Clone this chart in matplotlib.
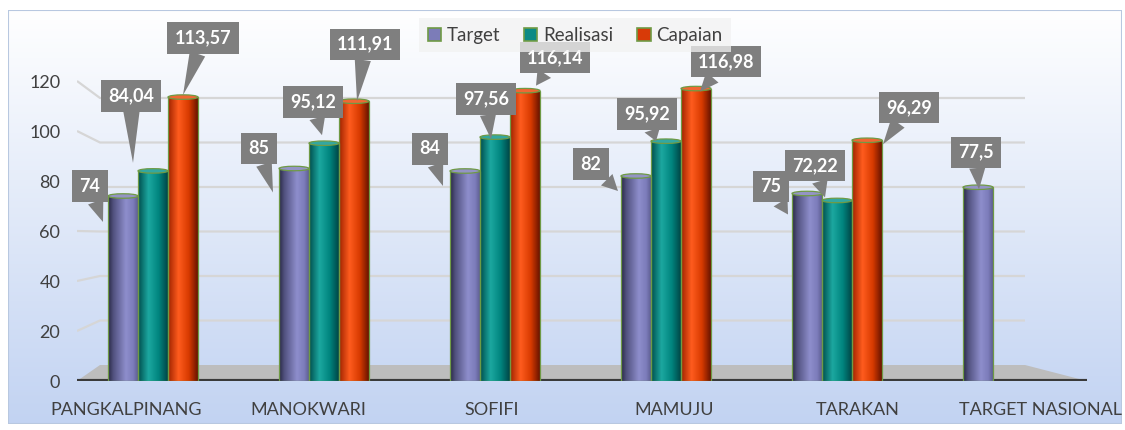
import numpy as np
import matplotlib
matplotlib.use("Agg")
import matplotlib.pyplot as plt
from matplotlib.patches import Polygon, Rectangle, Ellipse, Patch
from matplotlib.transforms import offset_copy

# ---------------- data ----------------
categories = ['PANGKALPINANG', 'MANOKWARI', 'SOFIFI', 'MAMUJU', 'TARAKAN', 'TARGET NASIONAL']
series_names = ['Target', 'Realisasi', 'Capaian']
target = [74, 85, 84, 82, 75, 77.5]
realisasi = [84.04, 95.12, 97.56, 95.92, 72.22, None]
capaian = [113.57, 111.91, 116.14, 116.98, 96.29, None]
y_ticks = [0, 20, 40, 60, 80, 100, 120]

# ---------------- layout / style ----------------
W, H = 1125, 430
plt.rcParams['font.family'] = ['Lato', 'DejaVu Sans']
fig = plt.figure(figsize=(W / 100, H / 100), dpi=100)

# background gradient panel
bg = fig.add_axes([8 / W, (H - 424) / H, (1122 - 8) / W, (424 - 10) / H], zorder=-10)
grad = np.linspace(0, 1, 256)[:, None]
top_c = np.array([255, 255, 255]) / 255
bot_c = np.array([194, 211, 242]) / 255
img = (top_c[None, None, :] * (1 - grad[..., None]) + bot_c[None, None, :] * grad[..., None])
img = np.repeat(img, 2, axis=1)
bg.imshow(img, aspect='auto', extent=[0, 1, 0, 1], origin='upper')
bg.set_xlim(0, 1); bg.set_ylim(0, 1)
bg.add_patch(Rectangle((0, 0), 1, 1, fill=False, ec='#b8c8e0', lw=1.5, transform=bg.transAxes))
bg.axis('off')

ax = fig.add_axes([77 / W, 49 / H, 1010 / W, 375 / H], zorder=1)
ax.patch.set_alpha(0)
for s in ax.spines.values():
    s.set_visible(False)

px = 171.0                       # pixels per category
x_left, x_right = -76 / px, 934 / px
ax.set_xlim(x_left, x_right)
ax.set_ylim(0, 150)

# perspective helpers (back wall)
x_back_left = -53 / px
x_back_right = 872 / px
def back(v):
    return 6.4 + 0.89 * v

# gridlines on side wall + back wall
for v in y_ticks[1:]:
    ax.plot([x_left, x_back_left, x_back_right], [v, back(v), back(v)],
            color='#d6d6d6', lw=1.6, zorder=1, solid_capstyle='butt')

# floor
floor = Polygon([(x_left, 0), (x_back_left, back(0)), (x_back_right, back(0)), (x_right, 0)],
                closed=True, fc='#bdbdbd', ec='none', zorder=2)
ax.add_patch(floor)
ax.plot([x_left, x_right], [0, 0], color='#3a3a3a', lw=3, zorder=2.5, solid_capstyle='round')

# bar styling
bw = 30 / px
offsets = [-30 / px, 0, 30 / px]
stops = {
    'Target': [(0, (42, 42, 70)), (0.18, (82, 82, 128)), (0.6, (142, 142, 204)),
               (0.85, (124, 124, 186)), (1, (95, 95, 148))],
    'Realisasi': [(0, (0, 78, 78)), (0.35, (28, 168, 160)), (0.7, (0, 132, 126)), (1, (0, 70, 70))],
    'Capaian': [(0, (160, 35, 0)), (0.35, (255, 92, 30)), (0.7, (215, 58, 0)), (1, (105, 20, 0))],
}
legend_col = {'Target': '#7c7cb8', 'Realisasi': '#0c8a84', 'Capaian': '#d83a08'}
edge_green = '#6f9a45'

def grad_img(name):
    st = stops[name]
    pos = [p for p, _ in st]
    xs = np.linspace(0, 1, 64)
    ch = [np.interp(xs, pos, [c[i] for _, c in st]) / 255 for i in range(3)]
    return np.stack(ch, axis=-1)[None, :, :]

all_series = [target, realisasi, capaian]

# label offsets in pixels: (box dx, box dy, tip dx, tip dy) relative to bar top centre
label_off = [
    [(-33, 10, -20, -26), (-35, 20, -21, -24), (-35, 22, -22, -15), (-45, 12, -18, -15), (-36, 7, -19, -21), (-2, 35, 1, -2)],
    [(-22, 75, -20, 8), (-11, 41, -2, 8), (-9, 38, -4, -2), (-19, 27, -10, 0), (-22, 35, -12, 3), None],
    [(20, 59, 0, 2), (11, 57, 3, 0), (30, 33, 11, 5), (30, 27, 4, -3), (42, 33, 16, -4), None],
]

def fmt(v):
    return f"{v:g}".replace('.', ',')

for si, (name, vals) in enumerate(zip(series_names, all_series)):
    g = grad_img(name)
    for ci, v in enumerate(vals):
        if v is None:
            continue
        x = ci + offsets[si]
        bars = ax.bar(x, v, width=bw, bottom=0, color='none', edgecolor=edge_green, lw=0.9, zorder=4)
        rect = bars.patches[0]
        im = ax.imshow(g, extent=[x - bw / 2, x + bw / 2, 0, v], aspect='auto', zorder=3.5,
                       interpolation='bilinear')
        im.set_clip_path(rect)
        mid = g[0, 32]
        ax.add_patch(Ellipse((x, v), bw, 1.8, fc=mid * 0.85 + 0.15, ec=edge_green, lw=0.9, zorder=4.2))
        lo = label_off[si][ci]
        tip_tr = offset_copy(ax.transData, fig=fig, x=lo[2], y=lo[3], units='dots')
        box_tr = offset_copy(ax.transData, fig=fig, x=lo[0], y=lo[1], units='dots')
        ax.annotate(fmt(v), xy=(x, v), xycoords=tip_tr, xytext=(x, v), textcoords=box_tr,
                    ha='center', va='center', fontsize=13, fontweight='bold', color='white',
                    bbox=dict(boxstyle='square,pad=0.4', fc='#7f7f7f', ec='none'),
                    arrowprops=dict(arrowstyle='wedge,tail_width=0.9,shrink_factor=0.5',
                                    fc='#7f7f7f', ec='none', shrinkA=0, shrinkB=0),
                    zorder=6, annotation_clip=False)

# axes ticks
ax.set_yticks(y_ticks)
ax.set_yticklabels([str(t) for t in y_ticks], fontsize=13, color='#404040')
ax.tick_params(axis='y', length=0, pad=12)
label_shift = [-0.16 + 0.07 * i for i in range(len(categories))]
ax.set_xticks([i + s for i, s in enumerate(label_shift)])
ax.set_xticklabels(categories, fontsize=13, color='#404040')
ax.tick_params(axis='x', length=0, pad=15)

# legend
handles = [Patch(fc=legend_col[n], ec=edge_green, lw=1.2, label=n) for n in series_names]
leg = fig.legend(handles=handles, loc='upper center', bbox_to_anchor=(575 / W, 1 - 9 / H),
                 ncol=3, fontsize=13.5, frameon=True, handlelength=0.7, handleheight=0.7,
                 handletextpad=0.3, columnspacing=1.3, borderpad=0.45, labelcolor='#404040')
leg.get_frame().set_facecolor('#f2f2f2')
leg.get_frame().set_alpha(0.75)
leg.get_frame().set_edgecolor('none')
leg.get_frame().set_boxstyle('square', pad=0)
leg.set_zorder(10)

fig.savefig('out.png', dpi=100)
